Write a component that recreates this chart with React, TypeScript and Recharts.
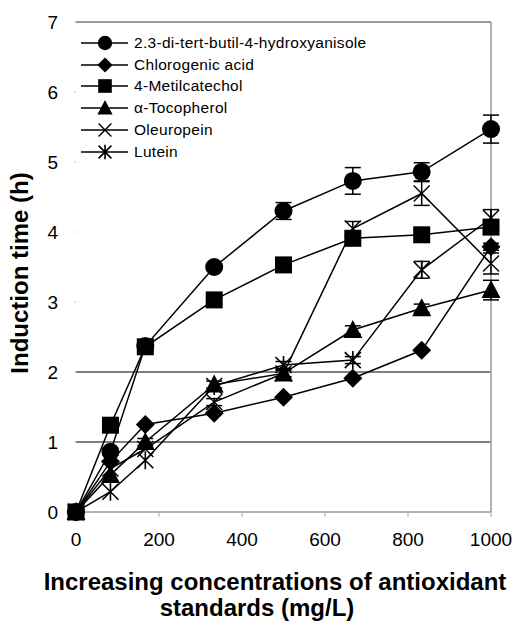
import React from 'react';
import { LineChart, Line, XAxis, YAxis, ErrorBar, ReferenceLine } from 'recharts';

// concentrations (mg/L)
const concentrations = [0, 83, 167, 333, 500, 667, 833, 1000];

// induction times (h)
const bha = [0, 0.86, 2.37, 3.5, 4.3, 4.73, 4.86, 5.47];
const bhaErr = [0, 0.05, 0.05, 0.05, 0.12, 0.19, 0.13, 0.2];
const chlorogenic = [0, 0.72, 1.25, 1.41, 1.64, 1.91, 2.31, 3.79];
const chlorogenicErr = [0, 0, 0, 0, 0, 0, 0, 0.05];
const metilcatechol = [0, 1.24, 2.36, 3.03, 3.53, 3.91, 3.96, 4.07];
const metilcatecholErr = [0, 0, 0, 0, 0, 0, 0, 0.05];
const tocopherol = [0, 0.53, 1.0, 1.82, 1.98, 2.6, 2.91, 3.17];
const tocopherolErr = [0, 0, 0.05, 0.05, 0.05, 0.06, 0.06, 0.14];
const oleuropein = [0, 0.62, 0.9, 1.57, 1.98, 4.05, 4.55, 3.55];
const oleuropeinErr = [0, 0, 0, 0.05, 0.05, 0.1, 0.17, 0.15];
const lutein = [0, 0.29, 0.74, 1.8, 2.1, 2.17, 3.46, 4.2];
const luteinErr = [0, 0, 0, 0, 0.05, 0.05, 0.12, 0.12];

const xTicks = [0, 200, 400, 600, 800, 1000];
const yTicks = [0, 1, 2, 3, 4, 5, 6, 7];

type Kind = 'circle' | 'diamond' | 'square' | 'triangle' | 'x' | 'asterisk';

const series: { key: string; name: string; kind: Kind; values: number[]; errs: number[] }[] = [
  { key: 'bha', name: '2.3-di-tert-butil-4-hydroxyanisole', kind: 'circle', values: bha, errs: bhaErr },
  { key: 'chl', name: 'Chlorogenic acid', kind: 'diamond', values: chlorogenic, errs: chlorogenicErr },
  { key: 'met', name: '4-Metilcatechol', kind: 'square', values: metilcatechol, errs: metilcatecholErr },
  { key: 'toc', name: 'α-Tocopherol', kind: 'triangle', values: tocopherol, errs: tocopherolErr },
  { key: 'ole', name: 'Oleuropein', kind: 'x', values: oleuropein, errs: oleuropeinErr },
  { key: 'lut', name: 'Lutein', kind: 'asterisk', values: lutein, errs: luteinErr },
];

const data = concentrations.map((c, i) => {
  const row: Record<string, number> = { conc: c };
  series.forEach((s) => {
    row[s.key] = s.values[i];
    row[s.key + 'Err'] = s.errs[i];
  });
  return row;
});

const FONT = '"Liberation Sans", Arial, sans-serif';

function Marker({ kind, cx, cy, s = 1 }: { kind: Kind; cx: number; cy: number; s?: number }) {
  const k = s;
  switch (kind) {
    case 'circle':
      return <circle cx={cx} cy={cy} r={9 * k} fill="#000" />;
    case 'diamond':
      return (
        <polygon
          points={`${cx},${cy - 9.5 * k} ${cx + 9.5 * k},${cy} ${cx},${cy + 9.5 * k} ${cx - 9.5 * k},${cy}`}
          fill="#000"
        />
      );
    case 'square':
      return <rect x={cx - 8.5 * k} y={cy - 8.5 * k} width={17 * k} height={17 * k} fill="#000" />;
    case 'triangle':
      return (
        <polygon
          points={`${cx},${cy - 10 * k} ${cx + 9.5 * k},${cy + 8 * k} ${cx - 9.5 * k},${cy + 8 * k}`}
          fill="#000"
        />
      );
    case 'x':
      return (
        <path
          d={`M${cx - 8 * k},${cy - 8 * k}L${cx + 8 * k},${cy + 8 * k}M${cx - 8 * k},${cy + 8 * k}L${cx + 8 * k},${cy - 8 * k}`}
          stroke="#000"
          strokeWidth={1.4}
          fill="none"
        />
      );
    default:
      return (
        <path
          d={`M${cx - 8 * k},${cy - 8 * k}L${cx + 8 * k},${cy + 8 * k}M${cx - 8 * k},${cy + 8 * k}L${cx + 8 * k},${cy - 8 * k}M${cx},${cy - 9 * k}L${cx},${cy + 9 * k}`}
          stroke="#000"
          strokeWidth={1.6}
          fill="none"
        />
      );
  }
}

function ChartLegend() {
  return (
    <div style={{ position: 'absolute', top: 32, left: 78, fontFamily: FONT, fontSize: 15.5, color: '#000' }}>
      {series.map((s) => (
        <div key={s.key} style={{ display: 'flex', alignItems: 'center', height: 21.8 }}>
          <svg width={52} height={20} style={{ display: 'block' }}>
            <line x1={3} y1={10} x2={50} y2={10} stroke="#000" strokeWidth={1.5} />
            <Marker kind={s.kind} cx={27} cy={10} s={0.8} />
          </svg>
          <span style={{ marginLeft: 4, letterSpacing: 0.3, whiteSpace: 'nowrap' }}>{s.name}</span>
        </div>
      ))}
    </div>
  );
}

export default function App() {
  return (
    <div style={{ position: 'absolute', left: 0, top: 0, width: 516, height: 625, background: '#fff', fontFamily: FONT }}>
      <LineChart width={516} height={625} data={data} margin={{ top: 22, right: 25, left: 0, bottom: 73 }}>
        <XAxis
          dataKey="conc"
          type="number"
          domain={[0, 1000]}
          ticks={xTicks}
          axisLine={{ stroke: '#999', strokeWidth: 1.5 }}
          tickLine={{ stroke: '#aaa' }}
          tickSize={5}
          tickMargin={16}
          height={40}
          tick={{ fill: '#000', fontSize: 19, fontFamily: FONT }}
        />
        <YAxis
          type="number"
          domain={[0, 7]}
          ticks={yTicks}
          width={76}
          axisLine={false}
          tickLine={{ stroke: '#ccc' }}
          tickSize={2}
          tickMargin={16}
          tick={{ fill: '#000', fontSize: 19, fontFamily: FONT }}
        />
        <ReferenceLine y={1} stroke="#000" strokeWidth={1.2} />
        <ReferenceLine y={2} stroke="#000" strokeWidth={1.2} />
        <ReferenceLine y={7} stroke="#777" strokeWidth={1.5} />
        <ReferenceLine x={1000} stroke="#999" strokeWidth={1.5} />
        {series.map((s) => (
          <Line
            key={s.key}
            dataKey={s.key}
            name={s.name}
            type="linear"
            stroke="#000"
            strokeWidth={1.5}
            isAnimationActive={false}
            legendType="none"
            dot={(p: any) => <Marker key={`${s.key}-${p.index}`} kind={s.kind} cx={p.cx} cy={p.cy} />}
            activeDot={false}
          >
            <ErrorBar dataKey={s.key + 'Err'} direction="y" width={8} stroke="#000" strokeWidth={1.5} />
          </Line>
        ))}
      </LineChart>
      <ChartLegend />
      <div
        style={{
          position: 'absolute',
          left: 20,
          top: 273,
          transform: 'translate(-50%, -50%) rotate(-90deg)',
          whiteSpace: 'nowrap',
          fontWeight: 'bold',
          fontSize: 24,
        }}
      >
        Induction time (h)
      </div>
      <div style={{ position: 'absolute', left: 0, width: 550, top: 568, textAlign: 'center', fontWeight: 'bold', fontSize: 24 }}>
        Increasing concentrations of antioxidant
      </div>
      <div style={{ position: 'absolute', left: 0, width: 514, top: 594, textAlign: 'center', fontWeight: 'bold', fontSize: 24 }}>
        standards (mg/L)
      </div>
    </div>
  );
}
